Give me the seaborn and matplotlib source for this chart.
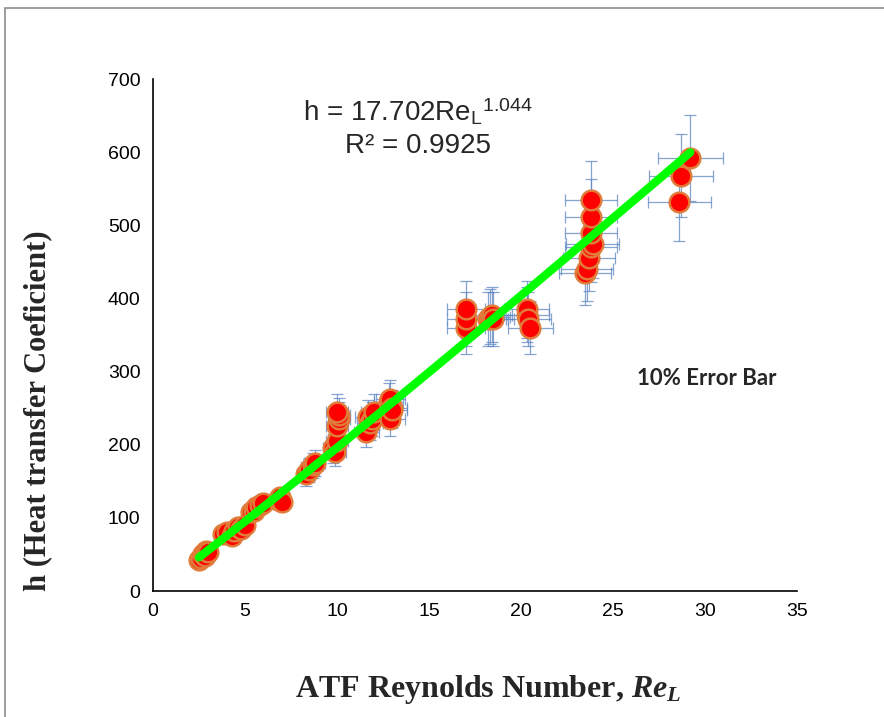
import numpy as np
import pandas as pd
import matplotlib
matplotlib.use("Agg")
import matplotlib.pyplot as plt
import seaborn as sns
from matplotlib.patches import Rectangle

# ---- data ----
re_l = [2.5, 2.6, 2.7, 2.8, 2.9, 3.0,
        3.8, 4.0, 4.3, 4.4, 4.6, 4.8, 5.0,
        5.3, 5.5, 5.6, 5.8, 6.0,
        6.8, 6.9, 7.0,
        8.3, 8.5, 8.7, 8.8,
        9.8, 9.9, 10.0, 10.0, 10.1, 10.1, 10.0,
        11.6, 11.7, 11.8, 11.9, 12.0,
        12.8, 12.9, 12.9, 13.0, 13.0,
        17.0, 17.0, 17.0,
        18.2, 18.3, 18.4, 18.5,
        20.3, 20.3, 20.4, 20.5,
        23.5, 23.6, 23.7, 23.8, 23.9, 23.8, 23.8, 23.8,
        28.6, 28.7, 29.2]
h_coef = [42, 45, 50, 48, 55, 53,
          78, 80, 75, 82, 88, 85, 90,
          108, 110, 115, 118, 120,
          125, 128, 122,
          160, 165, 172, 175,
          195, 190, 205, 225, 235, 240, 245,
          218, 238, 230, 235, 245,
          258, 235, 262, 250, 248,
          360, 372, 385,
          372, 375, 378, 372,
          378, 385, 372, 360,
          435, 440, 455, 470, 475, 490, 512, 535,
          532, 568, 592]

fit_coef = 17.702
fit_exp = 1.044
x_ticks = [0, 5, 10, 15, 20, 25, 30, 35]
y_ticks = [0, 100, 200, 300, 400, 500, 600, 700]

df = pd.DataFrame({"Re": re_l, "h": h_coef})

sns.set_theme(style="white")
plt.rcParams["font.family"] = ["Liberation Sans", "DejaVu Sans"]
plt.rcParams["mathtext.fontset"] = "custom"
plt.rcParams["mathtext.rm"] = "Liberation Serif:bold"
plt.rcParams["mathtext.it"] = "Liberation Serif:italic:bold"
plt.rcParams["mathtext.sf"] = "Liberation Sans"

fig = plt.figure(figsize=(8.84, 7.17), dpi=100)
ax = fig.add_axes([153 / 884, 1 - 591 / 717, (797 - 153) / 884, (591 - 79) / 717])

# figure frame (gray border at top/left)
fig.patches.append(Rectangle((5 / 884, -0.05), 1.2, (717 - 8) / 717 + 0.05,
                             transform=fig.transFigure, fill=False,
                             edgecolor="#8c8c8c", linewidth=1.2, zorder=0))

# error bars
x = df["Re"].to_numpy()
y = df["h"].to_numpy()
ax.errorbar(x, y, xerr=0.06 * x, yerr=0.1 * y, fmt="none",
            ecolor="#5d86c2", elinewidth=0.9, capsize=4, capthick=0.9,
            alpha=0.75, zorder=2)

sns.scatterplot(data=df, x="Re", y="h", ax=ax, s=200, color="#ff0000",
                edgecolor="#e07b39", linewidth=1.8, zorder=3, legend=False)

# power-law trendline
xf = np.linspace(min(re_l), max(re_l), 200)
fit_df = pd.DataFrame({"Re": xf, "h": fit_coef * xf ** fit_exp})
sns.lineplot(data=fit_df, x="Re", y="h", ax=ax, color="#00ff00",
             linewidth=6, zorder=4, solid_capstyle="round")

ax.set_xlim(0, 35)
ax.set_ylim(0, 700)
ax.set_xticks(x_ticks)
ax.set_yticks(y_ticks)
ax.tick_params(axis="both", labelsize=14, direction="out", length=4,
               width=1, colors="#000000", pad=5)
ax.tick_params(axis="x", color="#888888")
ax.tick_params(axis="y", color="#888888")
for side in ["top", "right"]:
    ax.spines[side].set_visible(False)
for side in ["left", "bottom"]:
    ax.spines[side].set_color("#000000")
    ax.spines[side].set_linewidth(1.2)
ax.grid(False)

ax.set_xlabel("")
ax.set_ylabel("")
fig.text(488 / 884, 1 - 690 / 717, r"ATF Reynolds Number, $Re_L$",
         family="Liberation Serif", fontweight="bold", fontsize=23,
         ha="center", va="center")
fig.text(38 / 884, 1 - 411 / 717, "h (Heat transfer Coeficient)",
         family="Liberation Serif", fontweight="bold", fontsize=22,
         rotation=90, ha="center", va="center")

ax.text(14.4, 655, r"h = 17.702Re$_\mathsf{L}$$^\mathsf{1.044}$",
        fontsize=20, ha="center", va="center")
ax.text(14.4, 608, "R² = 0.9925", fontsize=20, ha="center", va="center")
ax.text(30.1, 290, "10% Error Bar", family="Lato", fontweight="bold",
        fontsize=16, ha="center", va="center")

fig.savefig("out.png", dpi=100)
